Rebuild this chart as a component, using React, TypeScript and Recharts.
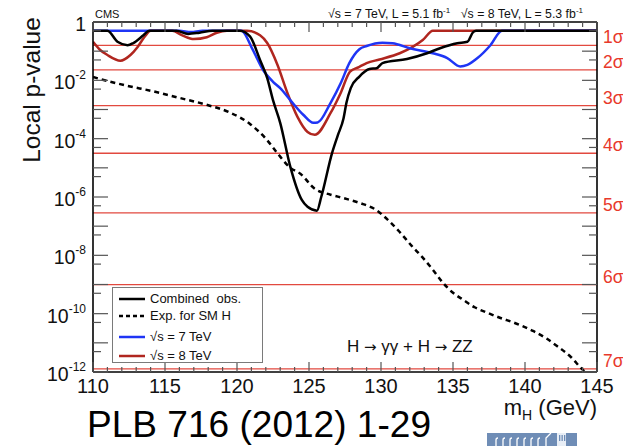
import React from "react";
import { ComposedChart, Line, XAxis, YAxis, ReferenceLine, Legend } from "recharts";

const W = 623;
const H = 446;
const FONT = '"Liberation Sans", Arial, Helvetica, sans-serif';

// Higgs mass hypotheses (GeV) and local p-values per curve
const combinedMass = [110, 111, 111.7, 112.4, 112.8, 113.5, 113.9, 115.8, 116.6, 117.4, 118.3, 120.2, 120.9, 121.6, 122.1, 122.5, 123.0, 123.7, 124.5, 124.9, 125.55, 125.85, 126.6, 127.0, 127.4, 127.6, 127.9, 128.5, 129.2, 129.7, 130.1, 131.8, 133.2, 134.1, 135.3, 136.0, 136.4, 136.6, 145];
const combinedP = [0.5, 0.5, 0.21, 0.16, 0.19, 0.35, 0.5, 0.5, 0.39, 0.43, 0.5, 0.5, 0.32, 0.05, 0.012, 2.1e-3, 3.5e-4, 1.1e-5, 7.9e-7, 4.6e-7, 3.4e-7, 1.0e-6, 3.2e-5, 1.3e-4, 5e-4, 1.7e-3, 5.4e-3, 0.0135, 0.0245, 0.026, 0.039, 0.054, 0.085, 0.126, 0.186, 0.21, 0.45, 0.5, 0.5];

const expectedMass = [110, 111, 112.5, 114, 116, 118, 119.5, 120.9, 122, 122.8, 123.7, 124.4, 125.4, 126.5, 127.5, 128.5, 129.7, 130.5, 131.3, 132.1, 132.9, 133.6, 134.3, 135.0, 135.7, 136.5, 137.4, 138.3, 139.2, 140.6, 141.5, 142.2, 143.2, 144.0, 144.4];
const expectedP = [0.013, 9.5e-3, 6.3e-3, 4.4e-3, 2.5e-3, 1.4e-3, 7.9e-4, 3.2e-4, 1e-4, 3.2e-5, 1e-5, 6.3e-6, 1.9e-6, 1.2e-6, 8.9e-7, 6.3e-7, 3.5e-7, 1.6e-7, 6.3e-8, 2.2e-8, 8.3e-9, 3.2e-9, 1.15e-9, 5.2e-10, 3e-10, 1.66e-10, 1.07e-10, 7.1e-11, 5e-11, 2.5e-11, 1.4e-11, 7.9e-12, 3.2e-12, 1.2e-12, 8e-13];

const tev7Mass = [110, 116.0, 116.8, 117.6, 120.3, 121.1, 121.8, 122.5, 123.0, 123.7, 124.6, 125.3, 125.6, 126.5, 127.2, 127.8, 128.5, 129.0, 130.1, 130.8, 132.0, 133.6, 134.6, 135.5, 136.0, 136.7, 137.6, 138.4, 145];
const tev7P = [0.5, 0.5, 0.45, 0.5, 0.5, 0.11, 0.023, 8.9e-3, 5.4e-3, 2.1e-3, 6.6e-4, 3.5e-4, 3.6e-4, 1.7e-3, 7.9e-3, 0.039, 0.117, 0.15, 0.195, 0.186, 0.126, 0.085, 0.058, 0.03, 0.034, 0.058, 0.16, 0.5, 0.5];

const tev8Mass = [110, 110.5, 111.0, 111.9, 112.6, 113.1, 113.6, 114.0, 115.5, 116.2, 117.0, 117.9, 118.6, 119.3, 120.7, 121.6, 122.1, 122.8, 123.5, 124.2, 124.9, 125.4, 126.5, 127.2, 127.85, 128.5, 129.0, 129.9, 131.3, 132.2, 132.9, 133.6, 145];
const tev8P = [0.21, 0.11, 0.074, 0.047, 0.074, 0.14, 0.32, 0.5, 0.5, 0.35, 0.26, 0.3, 0.43, 0.5, 0.5, 0.35, 0.19, 0.035, 3.7e-3, 5.6e-4, 1.7e-4, 1.35e-4, 7.6e-4, 3.7e-3, 0.02, 0.029, 0.039, 0.052, 0.085, 0.14, 0.24, 0.5, 0.5];

// one-sided Gaussian tail probabilities for 1..7 sigma
const sigmaNames = ["1σ", "2σ", "3σ", "4σ", "5σ", "6σ", "7σ"];
const sigmaP = [0.158655, 0.0227501, 1.3499e-3, 3.16712e-5, 2.86652e-7, 9.86588e-10, 1.27981e-12];

const massTicks = Array.from({ length: 36 }, (_, i) => 110 + i);
const massLabels = [110, 115, 120, 125, 130, 135, 140, 145];
const pDecades = [1, 1e-1, 1e-2, 1e-3, 1e-4, 1e-5, 1e-6, 1e-7, 1e-8, 1e-9, 1e-10, 1e-11, 1e-12];
const pHalves = [0.5, 5e-2, 5e-3, 5e-4, 5e-5, 5e-6, 5e-7, 5e-8, 5e-9, 5e-10, 5e-11, 5e-12];
const pLabels = [1, 1e-2, 1e-4, 1e-6, 1e-8, 1e-10, 1e-12];
const pTicks = [...pDecades, ...pHalves].sort((a, b) => a - b);

const legendItems = [
  { label: "Combined  obs.", color: "#000", dash: undefined as string | undefined },
  { label: "Exp. for SM H", color: "#000", dash: "4 3" },
  { label: "√s = 7 TeV", color: "#1f35f5", dash: undefined },
  { label: "√s = 8 TeV", color: "#b0261f", dash: undefined },
];

const toPoints = (m: number[], p: number[]) => m.map((x, i) => ({ m: x, p: p[i] }));

const TICK_COLOR = "#555";
const SIGMA_LINE = "#e2493f";
const SIGMA_TEXT = "#e8392b";
const ARROW_FONT = '"DejaVu Sans", sans-serif';

// plot frame in chart pixels
const LEFT = 93;
const TOP = 22;
const RIGHT = 597;
const BOTTOM = 372;

function MassTick(props: any) {
  const { x, payload, side } = props;
  const v = payload.value as number;
  const major = massLabels.includes(v);
  const len = major ? 10 : 5;
  const y0 = side === "bottom" ? BOTTOM : TOP;
  const dir = side === "bottom" ? -1 : 1;
  return (
    <g>
      <line x1={x} x2={x} y1={y0} y2={y0 + dir * len} stroke={TICK_COLOR} strokeWidth={1.2} />
      {side === "bottom" && major && (
        <text x={x} y={y0 + 21} textAnchor="middle" fontSize={20} fill="#111" fontFamily={FONT}>
          {v}
        </text>
      )}
    </g>
  );
}

function PTick(props: any) {
  const { y, payload, side } = props;
  const v = payload.value as number;
  const decade = pDecades.includes(v);
  const len = decade ? 15 : 8;
  const x0 = side === "left" ? LEFT : RIGHT;
  const dir = side === "left" ? 1 : -1;
  const exp = Math.round(Math.log10(v));
  return (
    <g>
      <line x1={x0} x2={x0 + dir * len} y1={y} y2={y} stroke={TICK_COLOR} strokeWidth={1.2} />
      {side === "left" && pLabels.includes(v) && (
        <text x={x0 - 7} y={y + 9} textAnchor="end" fontSize={19.5} fill="#111" fontFamily={FONT}>
          {exp === 0 ? (
            "1"
          ) : (
            <>
              <tspan>10</tspan>
              <tspan dy={-10} fontSize={12}>{exp}</tspan>
            </>
          )}
        </text>
      )}
    </g>
  );
}

function SigmaTag(props: any) {
  const { viewBox, text } = props;
  if (!viewBox) return null;
  return (
    <text x={viewBox.x + viewBox.width + 6} y={viewBox.y - 2} fontSize={17.5} fill={SIGMA_TEXT} fontFamily={FONT}>
      {text}
    </text>
  );
}

function LegendBox() {
  const rows = [11, 28, 49, 68];
  return (
    <div
      style={{
        position: "relative",
        width: 151,
        height: 76,
        boxSizing: "border-box",
        border: "1.5px solid #7a7a7a",
        background: "#fff",
        fontFamily: FONT,
        fontSize: 13,
        color: "#111",
      }}
    >
      {legendItems.map((item, i) => (
        <div key={item.label} style={{ position: "absolute", left: 0, top: rows[i] - 9, height: 18, width: 151 }}>
          <svg width={30} height={18} style={{ position: "absolute", left: 5, top: 0 }}>
            <line x1={1} x2={27} y1={9} y2={9} stroke={item.color} strokeWidth={2.5} strokeDasharray={item.dash} />
          </svg>
          <span style={{ position: "absolute", left: 37, top: 1, lineHeight: "16px", whiteSpace: "pre" }}>{item.label}</span>
        </div>
      ))}
    </div>
  );
}

export default function App() {
  const frame = { stroke: "#000", strokeWidth: 1.6 };
  return (
    <div style={{ position: "absolute", left: 0, top: 0, width: W, height: H, background: "#fff", overflow: "hidden" }}>
      <ComposedChart width={W} height={H} margin={{ top: TOP - 1, right: W - RIGHT - 1, bottom: H - BOTTOM - 1, left: LEFT - 1 }}>
        <XAxis
          xAxisId="b"
          dataKey="m"
          type="number"
          domain={[110, 145]}
          allowDataOverflow
          ticks={massTicks}
          interval={0}
          height={1}
          tickSize={0}
          tickMargin={0}
          tickLine={false}
          axisLine={frame}
          tick={(p: any) => <MassTick {...p} side="bottom" />}
        />
        <XAxis
          xAxisId="t"
          orientation="top"
          dataKey="m"
          type="number"
          domain={[110, 145]}
          allowDataOverflow
          ticks={massTicks}
          interval={0}
          height={1}
          tickSize={0}
          tickMargin={0}
          tickLine={false}
          axisLine={frame}
          tick={(p: any) => <MassTick {...p} side="top" />}
        />
        <YAxis
          yAxisId="l"
          type="number"
          scale="log"
          domain={[1e-12, 1]}
          allowDataOverflow
          ticks={pTicks}
          interval={0}
          width={1}
          tickSize={0}
          tickMargin={0}
          tickLine={false}
          axisLine={frame}
          tick={(p: any) => <PTick {...p} side="left" />}
        />
        <YAxis
          yAxisId="r"
          orientation="right"
          type="number"
          scale="log"
          domain={[1e-12, 1]}
          allowDataOverflow
          ticks={pTicks}
          interval={0}
          width={1}
          tickSize={0}
          tickMargin={0}
          tickLine={false}
          axisLine={frame}
          tick={(p: any) => <PTick {...p} side="right" />}
        />

        {sigmaP.map((p, i) => (
          <ReferenceLine
            key={sigmaNames[i]}
            xAxisId="b"
            yAxisId="l"
            y={p}
            stroke={SIGMA_LINE}
            strokeWidth={1.3}
            label={<SigmaTag text={sigmaNames[i]} />}
          />
        ))}

        <Line xAxisId="b" yAxisId="l" data={toPoints(tev8Mass, tev8P)} dataKey="p" name="√s = 8 TeV"
          type="monotone" stroke="#b0261f" strokeWidth={2.5} dot={false} activeDot={false} isAnimationActive={false} />
        <Line xAxisId="b" yAxisId="l" data={toPoints(tev7Mass, tev7P)} dataKey="p" name="√s = 7 TeV"
          type="monotone" stroke="#1f35f5" strokeWidth={2.5} dot={false} activeDot={false} isAnimationActive={false} />
        <Line xAxisId="b" yAxisId="l" data={toPoints(expectedMass, expectedP)} dataKey="p" name="Exp. for SM H"
          type="monotone" stroke="#000" strokeWidth={2.5} strokeDasharray="5 4" dot={false} activeDot={false} isAnimationActive={false} />
        <Line xAxisId="b" yAxisId="l" data={toPoints(combinedMass, combinedP)} dataKey="p" name="Combined obs."
          type="monotone" stroke="#000" strokeWidth={2.5} dot={false} activeDot={false} isAnimationActive={false} />

        <Legend
          layout="vertical"
          align="center"
          verticalAlign="middle"
          wrapperStyle={{ left: 112, top: 287, width: 151, height: 76 }}
          content={() => <LegendBox />}
        />
      </ComposedChart>

      <svg width={W} height={H} style={{ position: "absolute", left: 0, top: 0, pointerEvents: "none" }} fontFamily={FONT}>
        <text x={95} y={18} fontSize={11} fill="#111">CMS</text>
        <text x={328} y={18} fontSize={12.3} fill="#111">
          √s = 7 TeV, L = 5.1 fb<tspan dy={-5} fontSize={8}>-1</tspan>
        </text>
        <text x={583} y={18} fontSize={12.3} fill="#111" textAnchor="end">
          √s = 8 TeV, L = 5.3 fb<tspan dy={-5} fontSize={8}>-1</tspan>
        </text>
        <text transform="rotate(-90)" x={-90} y={40} textAnchor="middle" fontSize={24.5} fill="#111">
          Local p-value
        </text>
        <text x={347} y={352} fontSize={17} fill="#111">
          H <tspan fontFamily={ARROW_FONT} fontSize={15}>→</tspan> γγ + H <tspan fontFamily={ARROW_FONT} fontSize={15}>→</tspan> ZZ
        </text>
        <text x={597} y={415} fontSize={22} fill="#111" textAnchor="end">
          m<tspan dy={5} fontSize={14}>H</tspan>
          <tspan dy={-5}> (GeV)</tspan>
        </text>
        <text x={87} y={437} fontSize={36} fill="#000" textLength={344} lengthAdjust="spacingAndGlyphs">PLB 716 (2012) 1-29</text>
        <g>
          <rect x={487} y={433} width={90} height={14} fill="#6f8db6" />
          {[0, 1, 2, 3, 4, 5, 6].map((k) => (
            <path key={k} d={`M${496 + k * 7} 446 v-6 q0 -2 2 -2`} stroke="#fff" strokeWidth={1.3} fill="none" />
          ))}
          <path d="M546 446 v-8 l5 -5" stroke="#fff" strokeWidth={1.3} fill="none" />
          <rect x={557} y={433} width={9} height={13} fill="#e8eef6" />
          <rect x={559} y={435} width={1.3} height={6} fill="#6f8db6" />
          <rect x={561.5} y={435} width={1.3} height={6} fill="#6f8db6" />
          <rect x={564} y={435} width={1.3} height={6} fill="#6f8db6" />
        </g>
      </svg>
    </div>
  );
}
